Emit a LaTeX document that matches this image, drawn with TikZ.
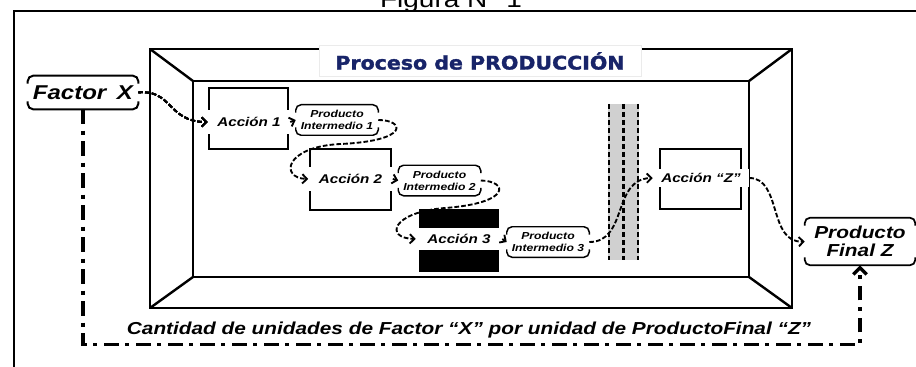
\documentclass[tikz,border=0pt]{standalone}
\usepackage{fontspec}
\setmainfont{Liberation Sans}[FakeStretch=1.2]
\newfontfamily\titlefont{DejaVu Sans}[FakeStretch=1.1,FakeBold=1.6]
\usepackage{tikz}
\usetikzlibrary{arrows.meta}
\definecolor{titleblue}{RGB}{24,36,105}
\definecolor{bargray}{RGB}{208,208,208}
\newcommand{\nodecaps}[2]{%
    \draw[line width=#2,rounded corners=4pt] ([yshift=-6pt]#1.north west) |- (#1.north east) -- ([yshift=-6pt]#1.north east);
    \draw[line width=#2,rounded corners=4pt] ([yshift=6pt]#1.south west) |- (#1.south east) -- ([yshift=6pt]#1.south east);}

\begin{document}
\begin{tikzpicture}[x=0.75pt,y=-0.75pt,
            room/.style={line width=1.8pt},
            flow/.style={line width=1.4pt,dash pattern=on 3.5pt off 1.6pt,-{Straight Barb[length=3.5pt,width=7pt]}},
            push/.style={line width=1.4pt,-{Straight Barb[length=3.5pt,width=7pt]}},
            back/.style={line width=2.6pt,dash pattern=on 11pt off 5pt on 3pt off 5pt,-{Straight Barb[length=5pt,width=10pt]}},
            actlabel/.style={fill=white,inner sep=0pt,minimum height=18pt,font=\bfseries\itshape\fontsize{9.5}{10}\selectfont},
            prodbox/.style={inner sep=0pt,align=center,minimum width=61.5pt,minimum height=22.5pt,font=\bfseries\itshape\fontsize{7.6}{9}\selectfont}]
            \useasboundingbox (0,0) rectangle (916,367);
            \node[anchor=base,font=\fontsize{17.5}{18}\selectfont] (fig) at (451,8) {Figura N° 1};
            \draw[line width=1.1pt] (14,367) -- (14,11) -- (916,11);
            \draw[room] (150,49) rectangle (792,308);
            \draw[room] (193,81) rectangle (749,277);
            \foreach \ox/\oy/\ix/\iy in {150/49/193/81,792/49/749/81,150/308/193/277,792/308/749/277}
                \draw[room] (\ox,\oy) -- (\ix,\iy);
            \node[fill=white,draw=black!8,inner sep=0pt,minimum width=241.5pt,minimum height=23.25pt,text=titleblue,
                font=\titlefont\bfseries\fontsize{14}{15}\selectfont] (title) at (480,61) {Proceso de PRODUCCIÓN};
            \draw[line width=0.9pt] (209,88) rectangle (288,149);
            \draw[line width=0.9pt] (310,149) rectangle (391,210);
            \fill (419,209) rectangle (499,272);
            \draw[line width=0.9pt] (660,149) rectangle (741,209);
            \fill[bargray] (608,104) rectangle (639,260);
            \foreach \x in {609,623.5,638}
                \draw[line width=2pt,dash pattern=on 4pt off 2pt] (\x,104) -- (\x,260);
            \node[inner sep=0pt,minimum width=82.5pt,minimum height=24.75pt,font=\bfseries\itshape\fontsize{15}{16}\selectfont] (fx) at (83,92.5) {Factor\hspace{3pt} X};
            \node[actlabel,minimum width=61.5pt] (a1) at (249,122) {Acción 1};
            \node[prodbox] (pi1) at (337,120) {Producto\\Intermedio 1};
            \node[actlabel,minimum width=63pt] (a2) at (350.5,179) {Acción 2};
            \node[prodbox] (pi2) at (439.5,180.5) {Producto\\Intermedio 2};
            \node[actlabel,minimum width=64.5pt,minimum height=16.5pt] (a3) at (459,239) {Acción 3};
            \node[prodbox] (pi3) at (548,242) {Producto\\Intermedio 3};
            \node[actlabel,minimum width=72pt,minimum height=14pt] (az) at (701,178) {Acción “Z”};
            \node[inner sep=0pt,align=center,minimum width=82.5pt,minimum height=35.25pt,font=\bfseries\itshape\fontsize{13}{13.5}\selectfont] (pfz) at (860,241.5) {Producto\\Final Z};
            \node[anchor=base,font=\bfseries\itshape\fontsize{13}{15}\selectfont] (note) at (469,334) {Cantidad de unidades de Factor “X” por unidad de ProductoFinal “Z”};
            \foreach \n/\w in {fx/1.5pt,pi1/1.1pt,pi2/1.1pt,pi3/1.1pt,pfz/1.3pt}
                \nodecaps{\n}{\w}
            \draw[flow] (fx.east) .. controls (172,89) and (168,122) .. (a1.west);
            \draw[push] (a1.east) -- (pi1.west);
            \draw[flow] (pi1.east) .. controls (405,120) and (410,141) .. (340,144) .. controls (284,147) and (280,178) .. (a2.west);
            \draw[push] (a2.east) -- (pi2.west);
            \draw[flow] (pi2.east) .. controls (508,181) and (512,203) .. (445,208) .. controls (392,212) and (384,238) .. (a3.west);
            \draw[push] (a3.east) -- (pi3.west);
            \draw[flow] (pi3.east) .. controls (628,242) and (612,179) .. (az.west);
            \draw[flow] (az.east) .. controls (782,178) and (768,243) .. (pfz.west);
            \draw[back] (fx.south) -- ++(0,235) -| (pfz.south);
        \end{tikzpicture}
\end{document}
